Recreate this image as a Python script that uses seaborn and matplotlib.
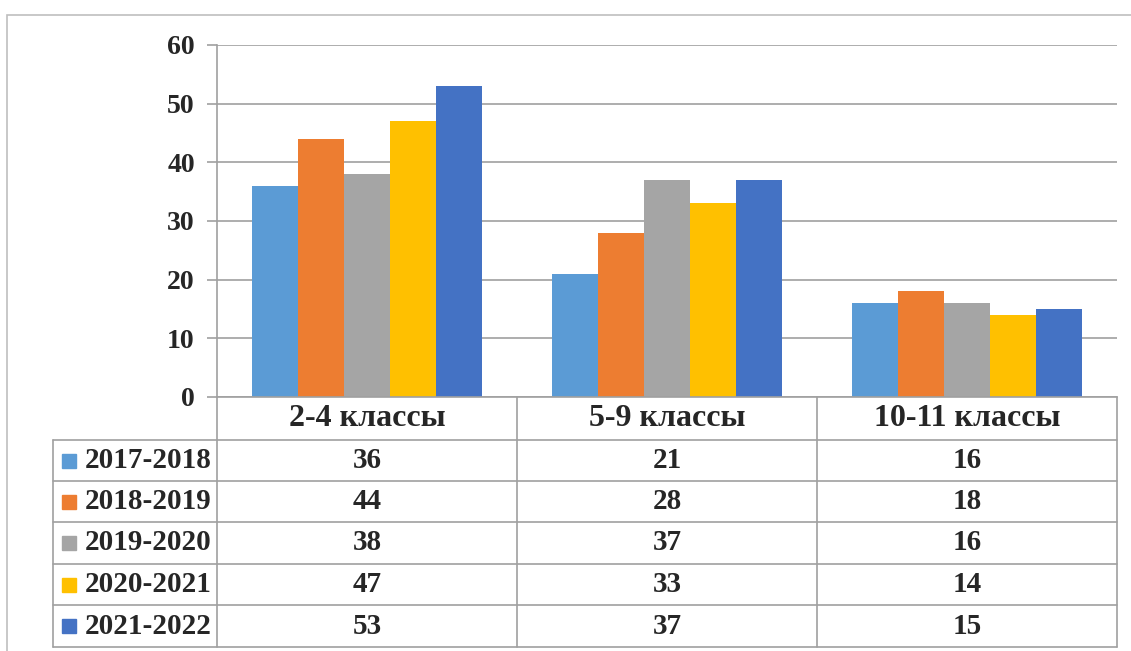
import pandas as pd
import seaborn as sns
import matplotlib.pyplot as plt
from matplotlib.lines import Line2D
from matplotlib.patches import Rectangle
from matplotlib.transforms import blended_transform_factory

categories = ['2-4 классы', '5-9 классы', '10-11 классы']
years = ['2017-2018', '2018-2019', '2019-2020', '2020-2021', '2021-2022']
v_2017 = [36, 21, 16]
v_2018 = [44, 28, 18]
v_2019 = [38, 37, 16]
v_2020 = [47, 33, 14]
v_2021 = [53, 37, 15]
colors = ['#5B9BD5', '#ED7D31', '#A5A5A5', '#FFC000', '#4472C4']

series = [v_2017, v_2018, v_2019, v_2020, v_2021]
df = pd.DataFrame([(c, y, vals[i]) for y, vals in zip(years, series)
                   for i, c in enumerate(categories)],
                  columns=['class', 'year', 'count'])

sns.set_style('white')
plt.rcParams['font.family'] = ['Liberation Serif', 'DejaVu Serif']
plt.rcParams['font.weight'] = 'bold'

W, H = 1131, 651
grey = '#A0A0A0'


def fx(px):
    return px / W


def fy(py):
    return 1 - py / H


fig = plt.figure(figsize=(W / 100, H / 100), dpi=100)
ax = fig.add_axes([fx(217), fy(397), fx(1117) - fx(217), fy(45) - fy(397)])

sns.barplot(ax=ax, data=df, x='class', y='count', hue='year', palette=colors,
            width=0.767, saturation=1, legend=False, linewidth=0)

ax.set_ylim(0, 60)
ax.set_xlim(-0.5, 2.5)
ax.set_yticks(range(0, 61, 10))
ax.yaxis.grid(True, color=grey, linewidth=1.2)
ax.set_axisbelow(True)
ax.set_xlabel(None)
ax.set_ylabel(None)
ax.set_xticks([])
for s in ['top', 'right']:
    ax.spines[s].set_visible(False)
for s in ['left', 'bottom']:
    ax.spines[s].set_color(grey)
    ax.spines[s].set_linewidth(1.2)
ax.tick_params(axis='y', length=7, width=1.2, color=grey, pad=9,
               labelsize=20, left=True)

# data table below the chart
tr = blended_transform_factory(ax.transData, fig.transFigure)
rows = [397, 440, 481, 522, 564, 605, 647]


def hline(y, x0, x1):
    fig.add_artist(Line2D([fx(x0), fx(x1)], [fy(y), fy(y)], color=grey, lw=1.2))


def vline(x, y0, y1):
    fig.add_artist(Line2D([fx(x), fx(x)], [fy(y0), fy(y1)], color=grey, lw=1.2))


for y in rows[1:]:
    hline(y, 53, 1117)
vline(53, 440, 647)
for x in [217, 517, 817, 1117]:
    vline(x, 397, 647)

for i, c in enumerate(categories):
    fig.text(i, fy((rows[0] + rows[1]) / 2), c, transform=tr, ha='center',
             va='center', fontsize=23, fontweight='bold')

for r, (y, vals, col) in enumerate(zip(years, series, colors)):
    yc = fy((rows[r + 1] + rows[r + 2]) / 2)
    fig.add_artist(Rectangle((fx(62), yc - 7 / H), 14 / W, 14 / H, color=col,
                             transform=fig.transFigure))
    fig.text(fx(85), yc, y, ha='left', va='center', fontsize=21,
             fontweight='bold')
    for i, v in enumerate(vals):
        fig.text(i, yc, str(v), transform=tr, ha='center', va='center',
                 fontsize=21, fontweight='bold')

# outer chart frame
fig.add_artist(Rectangle((fx(7), -0.05), 1.1, fy(15) + 0.05, fill=False,
                         edgecolor='#BFBFBF', lw=1.2, transform=fig.transFigure))

fig.savefig('out.png', dpi=100)
